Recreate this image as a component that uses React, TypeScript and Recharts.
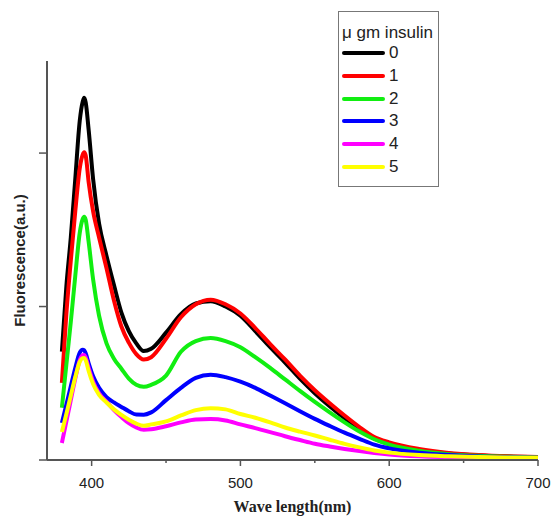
import { LineChart, Line, XAxis, YAxis, Legend } from "recharts";

// wavelength (nm)
const wavelengths = [
  380, 383, 386, 389, 392, 394, 395, 396, 398, 401, 405, 410, 415, 420, 425, 430, 435, 440,
  450, 460, 470, 480, 490, 500, 510, 520, 530, 540, 550, 560, 570, 580, 590, 600,
  620, 640, 660, 680, 700,
];

// fluorescence (a.u.) for each insulin amount
const insulin0 = [
  706, 1130, 1450, 1830, 2210, 2335, 2360, 2330, 2150, 1830, 1540, 1330, 1140, 961, 840, 760, 710, 725,
  830, 950, 1020, 1035, 1000, 940, 840, 735, 635, 530, 435, 350, 272, 200, 140, 105,
  66, 42, 30, 22, 18,
];
const insulin1 = [
  503, 950, 1300, 1620, 1900, 1990, 2006, 1985, 1810, 1620, 1450, 1250, 1040, 870, 765, 690, 655, 670,
  790, 930, 1015, 1045, 1015, 955, 860, 755, 655, 550, 455, 370, 290, 215, 150, 115,
  72, 46, 32, 24, 20,
];
const insulin2 = [
  340, 620, 900, 1200, 1480, 1570, 1585, 1565, 1420, 1176, 940, 760, 660, 595, 530, 490, 477, 490,
  550, 705, 775, 795, 775, 735, 670, 600, 525, 450, 378, 310, 245, 185, 135, 100,
  60, 38, 27, 21, 17,
];
const insulin3 = [
  242, 360, 480, 600, 700, 719, 715, 695, 630, 545, 470, 410, 375, 346, 318, 296, 295, 310,
  390, 470, 535, 556, 540, 510, 470, 420, 370, 318, 268, 222, 178, 138, 100, 76,
  48, 32, 23, 18, 15,
];
const insulin4 = [
  111, 250, 390, 530, 650, 683, 685, 668, 600, 510, 435, 380, 325, 280, 240, 212, 197, 200,
  220, 245, 264, 267, 258, 232, 208, 182, 155, 130, 106, 88, 72, 58, 46, 36,
  24, 18, 14, 12, 10,
];
const insulin5 = [
  183, 300, 420, 540, 640, 664, 665, 650, 580, 495, 425, 375, 330, 294, 262, 237, 223, 232,
  252, 290, 325, 338, 330, 300, 275, 245, 212, 185, 160, 132, 105, 82, 62, 48,
  32, 24, 19, 16, 14,
];

const seriesNames = ["0", "1", "2", "3", "4", "5"];
const seriesColors = ["#000000", "#ff0000", "#11ee11", "#0000ff", "#ff00ff", "#ffff00"];
const seriesValues = [insulin0, insulin1, insulin2, insulin3, insulin4, insulin5];

const xTicks = [400, 450, 500, 550, 600, 650, 700];
const yTicks = [0, 1000, 2000];

const data = wavelengths.map((w, i) => {
  const row: Record<string, number> = { w };
  seriesValues.forEach((vals, s) => {
    row["s" + s] = vals[i];
  });
  return row;
});

const axisColor = "#555";

const XTick = (props: any) => {
  const { x, y, payload } = props;
  const major = payload.value % 100 === 0;
  return (
    <g>
      <line x1={x} y1={y} x2={x} y2={y + (major ? 6 : 3)} stroke={axisColor} strokeWidth={1.5} />
      {major && (
        <text
          x={x}
          y={y + 28}
          textAnchor="middle"
          fontFamily="'Liberation Sans', Arial, sans-serif"
          fontSize={15}
          fill="#222"
        >
          {payload.value}
        </text>
      )}
    </g>
  );
};

const YTick = (props: any) => {
  const { x, y } = props;
  return <line x1={x - 8} y1={y} x2={x} y2={y} stroke={axisColor} strokeWidth={1.5} />;
};

const LegendBox = (props: any) => {
  const { payload } = props;
  return (
    <div
      style={{
        border: "1px solid #777",
        width: 101,
        height: 176,
        boxSizing: "border-box",
        fontFamily: "'Liberation Sans', Arial, sans-serif",
        color: "#222",
        whiteSpace: "nowrap",
      }}
    >
      <div style={{ fontSize: 17, height: 18, lineHeight: "18px", marginTop: 12, marginLeft: 3 }}>
        μ gm insulin
      </div>
      {(payload || []).map((p: any) => (
        <div key={p.value} style={{ display: "flex", alignItems: "center", height: 22.7 }}>
          <span
            style={{
              display: "inline-block",
              width: 43,
              height: 4,
              marginLeft: 3,
              borderRadius: 2,
              background: p.color,
            }}
          />
          <span style={{ fontSize: 17, marginLeft: 4 }}>{p.value}</span>
        </div>
      ))}
    </div>
  );
};

export default function App() {
  return (
    <div style={{ position: "absolute", left: 0, top: 0, background: "#fff" }}>
      <LineChart width={553} height={521} data={data} margin={{ top: 61, right: 15, bottom: 1, left: 0 }}>
        <XAxis
          dataKey="w"
          type="number"
          domain={[370, 700]}
          ticks={xTicks}
          interval={0}
          height={60}
          tickSize={0}
          tickMargin={0}
          tick={<XTick />}
          axisLine={{ stroke: axisColor, strokeWidth: 2 }}
          tickLine={false}
          label={{
            value: "Wave length(nm)",
            position: "insideBottom",
            offset: 8,
            style: {
              fontFamily: "'Liberation Serif', 'Times New Roman', serif",
              fontWeight: "bold",
              fontSize: 16,
              fill: "#222",
            },
          }}
        />
        <YAxis
          type="number"
          domain={[0, 2600]}
          ticks={yTicks}
          interval={0}
          width={47}
          tickSize={0}
          tickMargin={0}
          tick={<YTick />}
          axisLine={{ stroke: axisColor, strokeWidth: 2 }}
          tickLine={false}
          label={{
            value: "Fluorescence(a.u.)",
            angle: -90,
            position: "insideLeft",
            offset: 20,
            style: {
              textAnchor: "middle",
              fontFamily: "'Liberation Sans', Arial, sans-serif",
              fontWeight: "bold",
              fontSize: 15,
              fill: "#222",
            },
          }}
        />
        <Legend
          layout="vertical"
          align="center"
          verticalAlign="middle"
          content={<LegendBox />}
          wrapperStyle={{ left: 338, top: 11, width: 101 }}
        />
        {seriesNames.map((name, s) => (
          <Line
            key={name}
            name={name}
            dataKey={"s" + s}
            type="monotone"
            stroke={seriesColors[s]}
            strokeWidth={4}
            dot={false}
            activeDot={false}
            isAnimationActive={false}
          />
        ))}
      </LineChart>
    </div>
  );
}
